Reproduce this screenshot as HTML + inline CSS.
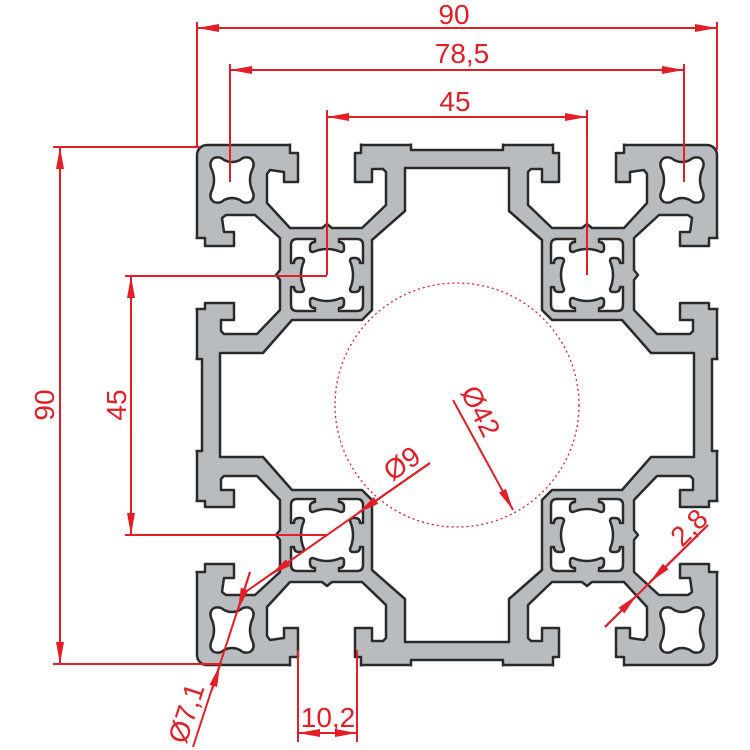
<!DOCTYPE html>
<html><head><meta charset="utf-8"><style>
html,body{margin:0;padding:0;background:#fff;width:750px;height:750px;overflow:hidden}
text{font-family:"Liberation Sans",sans-serif;fill:#e41e26}
</style></head><body>
<svg width="750" height="750" viewBox="0 0 750 750" xmlns="http://www.w3.org/2000/svg">
<defs>
<marker id="ar" markerWidth="22" markerHeight="8" refX="22" refY="4" orient="auto-start-reverse" markerUnits="userSpaceOnUse">
<polygon points="0,0 22,4 0,8" fill="#e41e26"/></marker>
<polygon id="slot" points="-167,-270 -167,-252 -159,-252 -159,-223 -173,-223 -173,-233 -187,-235 -190,-231 -190,-202 -167,-177 -135,-177 -130,-181 -125,-177 -95,-177 -71,-200 -71,-233 -74,-236 -85,-236 -85,-223 -102,-223 -102,-252 -96,-252 -96,-270"/>
<polygon id="rec" points="-46,-272 -46,-255 46,-255 46,-272"/>
<path id="lobe" d="M -8,-20 Q 0,-16 8,-20 Q 12,-24 18,-22 Q 24,-18 20,-10 Q 16,0 20,10 Q 24,18 18,22 Q 12,24 8,20 Q 0,16 -8,20 Q -12,24 -18,22 Q -24,18 -20,10 Q -16,0 -20,-10 Q -24,-18 -18,-22 Q -12,-24 -8,-20 Z"/>
<path id="node" d="M -30,-36 L -12,-36 L -12,-33 Q -17,-33 -17,-28 L -17,-26 Q -17,-23 -14,-23 Q 0,-29 14,-23 Q 17,-23 17,-26 L 17,-28 Q 17,-33 12,-33 L 12,-36 L 30,-36 Q 36,-36 36,-30 L 36,-12 L 33,-12 Q 33,-17 28,-17 L 26,-17 Q 23,-17 23,-14 Q 29,0 23,14 Q 23,17 26,17 L 28,17 Q 33,17 33,12 L 36,12 L 36,30 Q 36,36 30,36 L 12,36 L 12,33 Q 17,33 17,28 L 17,26 Q 17,23 14,23 Q 0,29 -14,23 Q -17,23 -17,26 L -17,28 Q -17,33 -12,33 L -12,36 L -30,36 Q -36,36 -36,30 L -36,12 L -33,12 Q -33,17 -28,17 L -26,17 Q -23,17 -23,14 Q -29,0 -23,-14 Q -23,-17 -26,-17 L -28,-17 Q -33,-17 -33,-12 L -36,-12 L -36,-30 Q -36,-36 -30,-36 Z"/>
</defs>
<g transform="translate(457,405)" stroke="#2a2a2a" stroke-width="2.5" stroke-linejoin="round">
<rect x="-260" y="-260" width="520" height="520" rx="10" fill="#b9bcbf"/>
<g fill="#fff">
<use href="#slot"/><use href="#slot" transform="scale(-1,1)"/><use href="#slot" transform="scale(1,-1)"/><use href="#slot" transform="scale(-1,-1)"/>
<use href="#slot" transform="matrix(0,1,1,0,0,0)"/><use href="#slot" transform="matrix(0,1,-1,0,0,0)"/><use href="#slot" transform="matrix(0,-1,1,0,0,0)"/><use href="#slot" transform="matrix(0,-1,-1,0,0,0)"/>
<use href="#rec"/><use href="#rec" transform="scale(1,-1)"/><use href="#rec" transform="matrix(0,1,1,0,0,0)"/><use href="#rec" transform="matrix(0,1,-1,0,0,0)"/>
<polygon points="-52,-237 52,-237 52,-194 85,-165 85,-95 95,-85 165,-85 194,-52 237,-52 237,52 194,52 165,85 95,85 85,95 85,165 52,194 52,237 -52,237 -52,194 -85,165 -85,95 -95,85 -165,85 -194,52 -237,52 -237,-52 -194,-52 -165,-85 -95,-85 -85,-95 -85,-165 -52,-194"/>
<use href="#lobe" transform="translate(-225,-225)"/><use href="#lobe" transform="translate(225,-225)"/><use href="#lobe" transform="translate(-225,225)"/><use href="#lobe" transform="translate(225,225)"/>
<use href="#node" transform="translate(-130,-130)"/><use href="#node" transform="translate(130,-130)"/><use href="#node" transform="translate(-130,130)"/><use href="#node" transform="translate(130,130)"/>
</g>
</g>
<g fill="#fff">
<rect x="0" y="0" width="750" height="143.5"/>
<rect x="0" y="666.5" width="750" height="84"/>
<rect x="0" y="0" width="195.5" height="750"/>
<rect x="718.5" y="0" width="32" height="750"/>
</g>
<circle cx="457" cy="405" r="122" fill="none" stroke="#e41e26" stroke-width="1.3" stroke-dasharray="2,3"/>
<g stroke="#e41e26" stroke-width="2" fill="none">
<line x1="197" y1="22" x2="197" y2="147"/><line x1="717" y1="22" x2="717" y2="150"/>
<line x1="197" y1="28" x2="717" y2="28" marker-start="url(#ar)" marker-end="url(#ar)"/>
<line x1="230" y1="64" x2="230" y2="182"/><line x1="684" y1="64" x2="684" y2="182"/>
<line x1="230" y1="70" x2="684" y2="70" marker-start="url(#ar)" marker-end="url(#ar)"/>
<line x1="327" y1="110" x2="327" y2="275"/><line x1="587" y1="110" x2="587" y2="275"/>
<line x1="327" y1="117" x2="587" y2="117" marker-start="url(#ar)" marker-end="url(#ar)"/>
<line x1="53" y1="147" x2="200" y2="147"/><line x1="53" y1="664" x2="222" y2="664"/>
<line x1="60" y1="147" x2="60" y2="664" marker-start="url(#ar)" marker-end="url(#ar)"/>
<line x1="125" y1="276" x2="327" y2="276"/><line x1="125" y1="535" x2="327" y2="535"/>
<line x1="131" y1="276" x2="131" y2="535" marker-start="url(#ar)" marker-end="url(#ar)"/>
<line x1="453" y1="400" x2="513" y2="510" marker-end="url(#ar)"/>
<line x1="430" y1="463" x2="244" y2="593"/>
<line x1="430" y1="463" x2="358" y2="513" marker-end="url(#ar)"/>
<line x1="270" y1="575" x2="292" y2="560" marker-start="url(#ar)"/>
<line x1="250" y1="572" x2="193" y2="747"/>
<line x1="250" y1="572" x2="238" y2="610" marker-end="url(#ar)"/>
<line x1="212" y1="690" x2="220" y2="665" marker-end="url(#ar)"/>
<line x1="708" y1="525" x2="605" y2="627"/>
<line x1="708" y1="525" x2="650" y2="582" marker-end="url(#ar)"/>
<line x1="605" y1="627" x2="637" y2="595" marker-end="url(#ar)"/>
<line x1="298" y1="650" x2="298" y2="742"/><line x1="357" y1="650" x2="357" y2="742"/>
<line x1="298" y1="733" x2="357" y2="733" marker-start="url(#ar)" marker-end="url(#ar)"/>
</g>
<g font-size="28">
<text x="454" y="24" text-anchor="middle">90</text>
<text x="462" y="63" text-anchor="middle">78,5</text>
<text x="455" y="111" text-anchor="middle">45</text>
<text transform="translate(54,405) rotate(-90)" text-anchor="middle">90</text>
<text transform="translate(126,405) rotate(-90)" text-anchor="middle">45</text>
<text transform="translate(460,392) rotate(63)">Ø42</text>
<text transform="translate(392,482) rotate(-35)">Ø9</text>
<text transform="translate(186,745) rotate(-72)">Ø7,1</text>
<text transform="translate(682,548) rotate(-45)">2,8</text>
<text x="328" y="727" text-anchor="middle">10,2</text>
</g>
</svg>
</body></html>
